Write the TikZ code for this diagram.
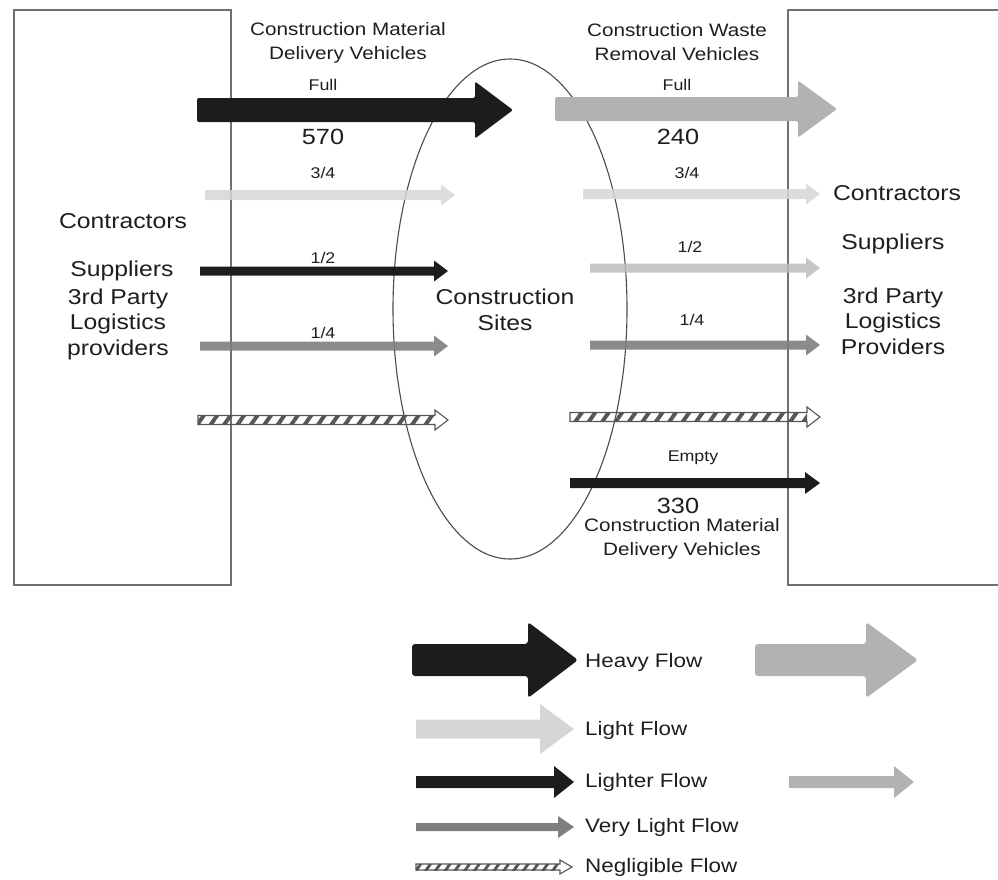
\documentclass[tikz,border=0pt]{standalone}
\usepackage{fontspec}
\setmainfont{Liberation Sans}[FakeStretch=1.15]
\usetikzlibrary{calc,patterns.meta}

\definecolor{ink}{HTML}{1E1E1E}
\definecolor{flowblack}{HTML}{1C1C1C}
\definecolor{wastegray}{HTML}{B2B2B2}
\definecolor{palegray}{HTML}{D6D6D6}
\definecolor{softgray}{HTML}{BCBCBC}
\definecolor{deepgray}{HTML}{7E7E7E}
\definecolor{framegray}{HTML}{707070}
\definecolor{hatchgray}{HTML}{555555}

% block arrow: tail, tip, shaft half-width, head half-width, head length, style
\newcommand\flowarrow[6]{%
  \fill[#6] let \p1=(#1), \p2=(#2) in
    ({\x1},{\y1+#3}) -- ({\x2-#5},{\y1+#3}) -- ({\x2-#5},{\y1+#4}) -- ({\x2},{\y1})
    -- ({\x2-#5},{\y1-#4}) -- ({\x2-#5},{\y1-#3}) -- ({\x1},{\y1-#3}) -- cycle;
}
% hatched outline arrow: tail, tip, shaft half-width, head half-width, head length, stripe distance
\newcommand\hatcharrow[6]{%
  \path[pattern={Lines[angle=55,distance=#6,line width=0.36*#6]},pattern color=hatchgray]
    let \p1=(#1), \p2=(#2) in ({\x1},{\y1+#3}) rectangle ({\x2-#5},{\y1-#3});
  \draw[hatchgray,line width=1.1pt,line join=miter] let \p1=(#1), \p2=(#2) in
    ({\x1},{\y1+#3}) -- ({\x2-#5},{\y1+#3}) -- ({\x2-#5},{\y1+#4}) -- ({\x2},{\y1})
    -- ({\x2-#5},{\y1-#4}) -- ({\x2-#5},{\y1-#3}) -- ({\x1},{\y1-#3}) -- cycle;
}

\tikzset{
  frame/.style={draw=framegray,line width=1.4pt},
  site/.style={draw=ink!80,line width=1.1pt},
  hdr/.style={font=\fontsize{18}{24.5}\selectfont,align=center,text=ink,inner sep=0pt},
  frac/.style={font=\fontsize{15.5}{18}\selectfont,text=ink,inner sep=0pt},
  count/.style={font=\fontsize{22}{26}\selectfont,text=ink,inner sep=0pt},
  side/.style={font=\fontsize{21.5}{25.5}\selectfont,align=center,text=ink,inner sep=0pt},
  legend/.style={font=\fontsize{19.5}{23}\selectfont,text=ink,inner sep=0pt,anchor=west},
}

\begin{document}
\begin{tikzpicture}[x=1pt,y=-1pt]
\useasboundingbox (0,0) rectangle (998,879);

% origin and destination boxes, construction sites
\draw[frame] (14,10) rectangle (231,585);
\draw[frame] (1010,10) -- (788,10) -- (788,585) -- (1010,585);
\draw[site] (510,309) ellipse [x radius=117, y radius=250];

% tails and tips of the flows
\coordinate (inFullA) at (197,110);  \coordinate (inFullB) at (513,110);
\coordinate (inTqA)   at (205,195);  \coordinate (inTqB)   at (455,195);
\coordinate (inHfA)   at (200,271);  \coordinate (inHfB)   at (448,271);
\coordinate (inQtA)   at (200,346);  \coordinate (inQtB)   at (448,346);
\coordinate (inNgA)   at (198,420);  \coordinate (inNgB)   at (448,420);
\coordinate (outFullA) at (555,109); \coordinate (outFullB) at (837,109);
\coordinate (outTqA)  at (583,194);  \coordinate (outTqB)  at (820,194);
\coordinate (outHfA)  at (590,268);  \coordinate (outHfB)  at (820,268);
\coordinate (outQtA)  at (590,345);  \coordinate (outQtB)  at (820,345);
\coordinate (outNgA)  at (570,417);  \coordinate (outNgB)  at (820,417);
\coordinate (outEmA)  at (570,483);  \coordinate (outEmB)  at (820,483);

% inbound delivery flows
\flowarrow{inFullA}{inFullB}{12pt}{28.5pt}{38pt}{flowblack,rounded corners=2pt}
\flowarrow{inTqA}{inTqB}{5pt}{10.5pt}{14pt}{palegray,fill opacity=0.85}
\flowarrow{inHfA}{inHfB}{4.5pt}{10.5pt}{14pt}{flowblack}
\flowarrow{inQtA}{inQtB}{4.5pt}{10.5pt}{14pt}{deepgray,fill opacity=0.9}
\hatcharrow{inNgA}{inNgB}{4.5pt}{10pt}{13pt}{11pt}

% outbound waste and empty flows
\flowarrow{outFullA}{outFullB}{12pt}{28.5pt}{39pt}{wastegray,rounded corners=2pt}
\flowarrow{outTqA}{outTqB}{5pt}{10.5pt}{14pt}{palegray,fill opacity=0.85}
\flowarrow{outHfA}{outHfB}{4.5pt}{10.5pt}{14pt}{softgray,fill opacity=0.85}
\flowarrow{outQtA}{outQtB}{4.5pt}{10.5pt}{14pt}{deepgray,fill opacity=0.9}
\hatcharrow{outNgA}{outNgB}{4.5pt}{10pt}{13pt}{11pt}
\flowarrow{outEmA}{outEmB}{5pt}{11pt}{15pt}{flowblack}

% flow labels
\node[hdr] (inHdr) at (348,43) {Construction Material\\Delivery Vehicles};
\node[frac] (inFull) at (323,85) {Full};
\node[count] (inNum) at (323,137) {570};
\node[frac] (inTq) at (323,173) {3/4};
\node[frac] (inHf) at (323,258) {1/2};
\node[frac] (inQt) at (323,333) {1/4};

\node[hdr] (outHdr) at (677,42) {Construction Waste\\Removal Vehicles};
\node[frac] (outFull) at (677,85) {Full};
\node[count] (outNum) at (678,137) {240};
\node[frac] (outTq) at (687,173) {3/4};
\node[frac] (outHf) at (690,247) {1/2};
\node[frac] (outQt) at (692,320) {1/4};
\node[frac] (outEm) at (693,458) {Empty};
\node[count] (emNum) at (678,506) {330};
\node[hdr] (emHdr) at (682,539) {Construction Material\\Delivery Vehicles};

% parties and sites
\node[side] (lCon) at (123,221) {Contractors};
\node[side] (lSup) at (122,271) {Suppliers};
\node[side] (lTpl) at (118,324) {3rd Party\\Logistics\\providers};
\node[side] (rCon) at (897,193) {Contractors};
\node[side] (rSup) at (893,244) {Suppliers};
\node[side] (rTpl) at (893,321) {3rd Party\\Logistics\\Providers};
\node[side] (sites) at (505,310) {Construction\\Sites};

% legend
\coordinate (lgHvA) at (412,660); \coordinate (lgHvB) at (578,660);
\coordinate (lgHwA) at (755,660); \coordinate (lgHwB) at (918,660);
\coordinate (lgLtA) at (416,729); \coordinate (lgLtB) at (574,729);
\coordinate (lgLrA) at (416,782); \coordinate (lgLrB) at (574,782);
\coordinate (lgLwA) at (789,782); \coordinate (lgLwB) at (914,782);
\coordinate (lgVlA) at (416,827); \coordinate (lgVlB) at (574,827);
\coordinate (lgNgA) at (416,867); \coordinate (lgNgB) at (572,867);

\flowarrow{lgHvA}{lgHvB}{16pt}{38pt}{50pt}{flowblack,rounded corners=3pt}
\flowarrow{lgHwA}{lgHwB}{16pt}{38pt}{52pt}{wastegray,rounded corners=3pt}
\flowarrow{lgLtA}{lgLtB}{9.5pt}{25pt}{34pt}{palegray}
\flowarrow{lgLrA}{lgLrB}{6pt}{16pt}{20pt}{flowblack}
\flowarrow{lgLwA}{lgLwB}{6pt}{16pt}{20pt}{wastegray}
\flowarrow{lgVlA}{lgVlB}{4pt}{11pt}{16pt}{deepgray}
\hatcharrow{lgNgA}{lgNgB}{3pt}{7pt}{12pt}{8pt}

\node[legend] (lgHv) at (585,662) {Heavy Flow};
\node[legend] (lgLt) at (585,730) {Light Flow};
\node[legend] (lgLr) at (585,782) {Lighter Flow};
\node[legend] (lgVl) at (585,827) {Very Light Flow};
\node[legend] (lgNg) at (585,867) {Negligible Flow};
\end{tikzpicture}
\end{document}
